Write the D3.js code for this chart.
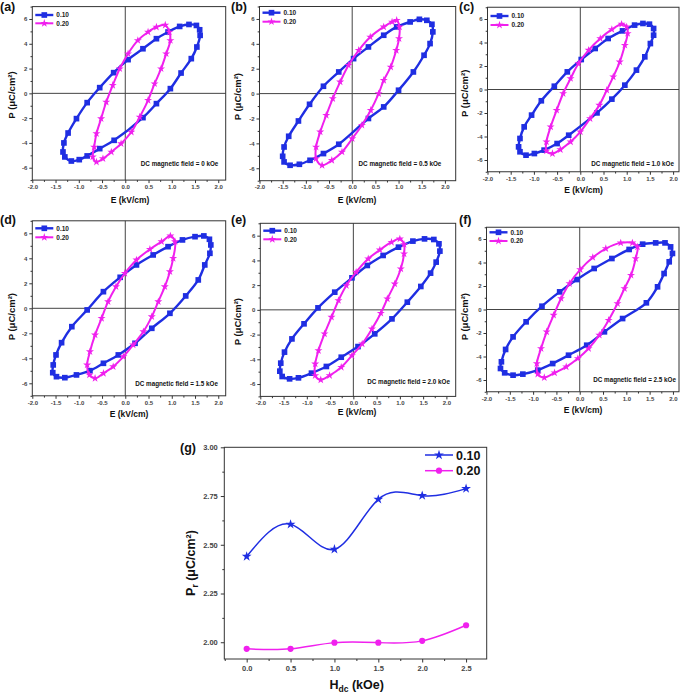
<!DOCTYPE html>
<html><head><meta charset="utf-8">
<script src="https://cdn.jsdelivr.net/npm/d3@7"></script>
<style>body{margin:0;background:#fff} svg{display:block} text{font-family:"Liberation Sans",Arial,sans-serif}</style>
</head><body><svg id="c" width="685" height="695"></svg>
<script>
// ---------------- DATA ----------------
const seriesNames = ["0.10", "0.20"];
const fieldValues = ["0", "0.5", "1.0", "1.5", "2.0", "2.5"];
const panelLetters = ["(a)", "(b)", "(c)", "(d)", "(e)", "(f)"];
const eTicks = [-2, -1.5, -1, -0.5, 0, 0.5, 1, 1.5, 2];
const eTickLabels = ["-2.0", "-1.5", "-1.0", "-0.5", "0.0", "0.5", "1.0", "1.5", "2.0"];
const pTicks = [-6, -4, -2, 0, 2, 4, 6];
const pTickLabels = ["-6", "-4", "-2", "0", "2", "4", "6"];

// P-E loops [E (kV/cm), P (uC/cm2)]
const loopA10 = [[1.37,5.56],[1.53,5.48],[1.60,5.13],[1.61,4.68],[1.54,3.74],[1.42,2.80],[1.20,1.64],[0.97,0.38],[0.67,-0.83],[0.38,-1.96],[-0.24,-3.79],[-0.55,-4.46],[-0.82,-5.05],[-0.99,-5.35],[-1.16,-5.46],[-1.30,-5.13],[-1.34,-4.73],[-1.32,-4.0],[-1.23,-3.2],[-1.05,-2.04],[-0.82,-0.75],[-0.55,0.46],[-0.25,1.67],[0.06,2.72],[0.38,3.6],[0.67,4.41],[0.92,4.95],[1.17,5.40]];
const loopA20 = [[0.86,5.51],[0.95,4.95],[0.97,4.27],[0.88,3.2],[0.77,1.99],[0.63,0.78],[0.49,-0.56],[0.31,-1.91],[0.13,-3.12],[-0.09,-4.06],[-0.30,-4.73],[-0.48,-5.27],[-0.62,-5.54],[-0.70,-5.13],[-0.67,-4.33],[-0.62,-3.25],[-0.52,-2.04],[-0.41,-0.70],[-0.27,0.65],[-0.12,1.99],[0.06,3.2],[0.27,4.27],[0.49,4.95],[0.67,5.35]];
const loopB10 = [[1.25,5.76],[1.45,5.97],[1.61,5.89],[1.72,5.57],[1.74,4.96],[1.68,4.02],[1.55,3.08],[1.32,1.74],[1.0,0.27],[0.68,-1.07],[0.35,-2.0],[-0.29,-4.07],[-0.62,-4.82],[-0.91,-5.36],[-1.14,-5.68],[-1.34,-5.76],[-1.47,-5.49],[-1.50,-5.04],[-1.47,-4.29],[-1.37,-3.43],[-1.16,-2.2],[-0.92,-0.86],[-0.62,0.59],[-0.29,1.74],[0.03,2.81],[0.35,3.75],[0.68,4.69],[0.96,5.36]];
const loopB20 = [[0.96,5.89],[1.02,5.36],[1.01,4.42],[0.95,3.48],[0.83,2.14],[0.68,1.07],[0.57,0.0],[0.40,-1.34],[0.21,-2.54],[0.0,-3.62],[-0.22,-4.69],[-0.44,-5.36],[-0.65,-5.76],[-0.78,-5.22],[-0.78,-4.29],[-0.69,-3.08],[-0.56,-1.74],[-0.42,-0.40],[-0.26,0.94],[-0.08,2.28],[0.14,3.48],[0.39,4.55],[0.68,5.36],[0.86,5.76]];
const loopC10 = [[1.17,5.48],[1.35,5.62],[1.49,5.56],[1.58,5.19],[1.58,4.62],[1.51,3.91],[1.39,2.78],[1.21,1.65],[0.96,0.37],[0.68,-0.82],[0.36,-1.99],[-0.25,-3.89],[-0.5,-4.6],[-0.78,-5.16],[-0.99,-5.45],[-1.17,-5.59],[-1.30,-5.30],[-1.33,-4.88],[-1.30,-4.17],[-1.21,-3.18],[-1.05,-2.18],[-0.84,-0.96],[-0.56,0.28],[-0.28,1.5],[0.02,2.55],[0.32,3.49],[0.60,4.34],[0.91,4.99]];
const loopC20 = [[0.89,5.56],[1.0,5.33],[1.02,4.77],[0.96,3.77],[0.85,2.35],[0.71,1.08],[0.57,-0.06],[0.41,-1.33],[0.21,-2.47],[0.0,-3.6],[-0.21,-4.45],[-0.43,-5.11],[-0.60,-5.45],[-0.73,-5.22],[-0.73,-4.45],[-0.64,-3.18],[-0.51,-1.76],[-0.37,-0.34],[-0.21,0.94],[-0.04,2.21],[0.18,3.35],[0.43,4.34],[0.68,5.11]];
const loopD10 = [[1.23,5.47],[1.50,5.73],[1.69,5.79],[1.81,5.52],[1.84,5.07],[1.82,4.4],[1.71,3.47],[1.57,2.27],[1.30,0.99],[0.96,-0.40],[0.57,-1.60],[0.21,-2.80],[-0.15,-3.73],[-0.47,-4.4],[-0.76,-4.99],[-1.05,-5.33],[-1.30,-5.55],[-1.48,-5.47],[-1.56,-5.15],[-1.55,-4.53],[-1.49,-3.73],[-1.37,-2.75],[-1.15,-1.47],[-0.82,-0.13],[-0.47,1.33],[-0.11,2.48],[0.24,3.47],[0.60,4.27],[0.92,4.93]];
const loopD20 = [[0.97,5.79],[1.07,5.33],[1.03,4.0],[0.96,2.93],[0.85,1.73],[0.71,0.53],[0.57,-0.67],[0.39,-1.87],[0.17,-2.93],[-0.04,-3.87],[-0.26,-4.67],[-0.47,-5.2],[-0.65,-5.6],[-0.77,-5.33],[-0.82,-4.53],[-0.76,-3.47],[-0.65,-2.13],[-0.51,-0.8],[-0.37,0.53],[-0.2,1.73],[-0.01,2.8],[0.24,3.87],[0.53,4.72],[0.78,5.33]];
const loopE10 = [[1.28,5.56],[1.53,5.74],[1.73,5.69],[1.84,5.34],[1.86,4.75],[1.78,3.86],[1.66,2.97],[1.45,1.89],[1.16,0.62],[0.83,-0.73],[0.46,-1.94],[0.10,-2.97],[-0.26,-3.83],[-0.58,-4.58],[-0.90,-5.12],[-1.18,-5.50],[-1.37,-5.58],[-1.53,-5.39],[-1.58,-4.96],[-1.56,-4.31],[-1.48,-3.42],[-1.32,-2.35],[-1.06,-1.13],[-0.76,0.16],[-0.40,1.43],[-0.03,2.59],[0.30,3.59],[0.64,4.40],[0.97,5.07]];
const loopE20 = [[1.0,5.74],[1.09,5.29],[1.09,4.53],[1.02,3.32],[0.89,2.10],[0.73,0.89],[0.59,-0.27],[0.40,-1.54],[0.19,-2.75],[-0.03,-3.69],[-0.26,-4.64],[-0.51,-5.31],[-0.70,-5.66],[-0.82,-5.31],[-0.82,-4.37],[-0.75,-3.29],[-0.62,-1.94],[-0.47,-0.59],[-0.32,0.76],[-0.15,1.97],[0.06,3.05],[0.32,4.13],[0.57,4.85],[0.82,5.47]];
const loopF10 = [[1.35,5.56],[1.63,5.67],[1.83,5.67],[1.95,5.33],[1.99,4.77],[1.92,4.06],[1.81,3.06],[1.67,1.93],[1.43,0.57],[0.92,-0.77],[0.53,-1.90],[0.15,-3.04],[-0.24,-3.89],[-0.58,-4.60],[-0.90,-5.16],[-1.22,-5.50],[-1.43,-5.59],[-1.61,-5.39],[-1.70,-5.02],[-1.68,-4.45],[-1.59,-3.40],[-1.43,-2.33],[-1.15,-1.05],[-0.81,0.28],[-0.43,1.5],[-0.06,2.55],[0.31,3.49],[0.69,4.34],[1.06,5.11]];
const loopF20 = [[1.13,5.67],[1.24,5.33],[1.20,4.34],[1.10,2.92],[0.96,1.79],[0.81,0.51],[0.62,-0.91],[0.42,-2.18],[0.19,-3.32],[-0.04,-4.17],[-0.29,-4.88],[-0.54,-5.39],[-0.76,-5.79],[-0.90,-5.50],[-0.92,-4.60],[-0.83,-3.32],[-0.71,-1.90],[-0.56,-0.48],[-0.40,0.94],[-0.22,2.21],[0.01,3.40],[0.28,4.43],[0.56,5.19],[0.88,5.67]];

// Remanent polarization vs Hdc
const hdc = [0.0, 0.5, 1.0, 1.5, 2.0, 2.5];
const pr10 = [2.44, 2.605, 2.477, 2.733, 2.752, 2.788];
const pr20 = [1.966, 1.966, 1.998, 1.998, 2.007, 2.087];
const hTicks = [0, 0.5, 1.0, 1.5, 2.0, 2.5];
const hTickLabels = ["0.0", "0.5", "1.0", "1.5", "2.0", "2.5"];
const prTicks = [2.00, 2.25, 2.50, 2.75, 3.00];
const prTickLabels = ["2.00", "2.25", "2.50", "2.75", "3.00"];

// ---------------- LAYOUT ----------------
const BLUE = "#1f2ee2", MAG = "#f020ee", AX = "#333";
const loops = [[loopA10, loopA20],[loopB10, loopB20],[loopC10, loopC20],[loopD10, loopD20],[loopE10, loopE20],[loopF10, loopF20]];
const frames = [
  {l:32.3, r:225.7, t:6.6, b:180.1, xmax:2.16, lab:[0,11], eLab:[130,203], pLab:[15,95], leg:[15,23.3], ann:[218.3,166]},
  {l:259.5, r:455.7, t:6.5, b:180.7, xmax:2.233, lab:[231,11], eLab:[357,203], pLab:[241,96.7], leg:[12.7,21.7], ann:[441.3,165.5]},
  {l:487.5, r:679, t:7.25, b:171.75, xmax:2.127, lab:[459,11], eLab:[583.5,193], pLab:[467.5,93.3], leg:[16,25], ann:[674,165.5]},
  {l:32.3, r:225.7, t:220.8, b:395.8, xmax:2.16, lab:[0,224], eLab:[129,417], pLab:[15,316.7], leg:[228.3,237.3], ann:[218,385.5]},
  {l:260.3, r:455.7, t:223.3, b:396.4, xmax:2.2, lab:[231,224], eLab:[357,415], pLab:[241,321.7], leg:[230.7,239.3], ann:[450,384]},
  {l:486.5, r:679, t:227.25, b:391.75, xmax:2.13, lab:[459,224], eLab:[583,413], pLab:[467.5,316.7], leg:[232.3,241], ann:[676,382]}
];

const svg = d3.select("#c");
const sq = d3.symbol().type(d3.symbolSquare).size(32);
const st = d3.symbol().type(d3.symbolStar).size(20);

frames.forEach((f, i) => {
  const g = svg.append("g");
  const x = d3.scaleLinear().domain([-2, f.xmax]).range([f.l, f.r]);
  const y = d3.scaleLinear().domain([-7, 7]).range([f.b, f.t]);
  // zero lines
  g.append("line").attr("x1", x(0)).attr("x2", x(0)).attr("y1", f.t).attr("y2", f.b).attr("stroke", "#444").attr("stroke-width", 1);
  g.append("line").attr("x1", f.l).attr("x2", f.r).attr("y1", y(0)).attr("y2", y(0)).attr("stroke", "#444").attr("stroke-width", 1);
  // axes
  const xa = g.append("g").attr("transform", `translate(0,${f.b})`)
    .call(d3.axisBottom(x).tickValues(eTicks).tickSize(3).tickPadding(1.5).tickFormat((d, k) => eTickLabels[k]));
  const xm = g.append("g").attr("transform", `translate(0,${f.b})`)
    .call(d3.axisBottom(x).tickValues(d3.range(-1.75, 2.1, 0.5)).tickSize(1.8).tickFormat(""));
  const ya = g.append("g").attr("transform", `translate(${f.l},0)`)
    .call(d3.axisLeft(y).tickValues(pTicks).tickSize(3).tickPadding(2).tickFormat((d, k) => pTickLabels[k]));
  const ym = g.append("g").attr("transform", `translate(${f.l},0)`)
    .call(d3.axisLeft(y).tickValues([-7,-5,-3,-1,1,3,5,7]).tickSize(1.8).tickFormat(""));
  [xa, xm, ya, ym].forEach(a => {
    a.select(".domain").remove();
    a.selectAll("line").attr("stroke", AX);
    a.selectAll("text").attr("font-size", 6).attr("font-weight", "bold").attr("fill", "#444");
  });
  g.append("rect").attr("x", f.l).attr("y", f.t).attr("width", f.r - f.l).attr("height", f.b - f.t)
    .attr("fill", "none").attr("stroke", AX).attr("stroke-width", 1);
  // loops
  const line = d3.line().x(d => x(d[0])).y(d => y(d[1])).curve(d3.curveCatmullRomClosed.alpha(0.5));
  const [d10, d20] = loops[i];
  g.append("path").attr("d", line(d10)).attr("fill", "none").attr("stroke", BLUE).attr("stroke-width", 2.4);
  g.selectAll(".m10").data(d10).join("path").attr("d", sq).attr("fill", BLUE)
    .attr("transform", d => `translate(${x(d[0])},${y(d[1])})`);
  g.append("path").attr("d", line(d20)).attr("fill", "none").attr("stroke", MAG).attr("stroke-width", 2);
  g.selectAll(".m20").data(d20).join("path").attr("d", st).attr("fill", MAG)
    .attr("transform", d => `translate(${x(d[0])},${y(d[1])})`);
  // legend
  [[BLUE, sq, f.leg[0], 2.4], [MAG, st, f.leg[1], 2]].forEach((L, k) => {
    g.append("line").attr("x1", f.l + 3).attr("x2", f.l + 21).attr("y1", L[2]).attr("y2", L[2]).attr("stroke", L[0]).attr("stroke-width", L[3]);
    g.append("path").attr("d", L[1]).attr("fill", L[0]).attr("transform", `translate(${f.l + 12},${L[2]})`);
    g.append("text").attr("x", f.l + 24).attr("y", L[2] + 2.3).attr("font-size", 6.5).attr("font-weight", "bold").attr("fill", "#222").text(seriesNames[k]);
  });
  // annotation
  g.append("text").attr("x", f.ann[0]).attr("y", f.ann[1]).attr("text-anchor", "end").attr("font-size", 6.3)
    .attr("font-weight", "bold").attr("fill", "#111").text(`DC magnetic field = ${fieldValues[i]} kOe`);
  // titles
  g.append("text").attr("x", f.eLab[0]).attr("y", f.eLab[1]).attr("text-anchor", "middle").attr("font-size", 8.5)
    .attr("font-weight", "bold").attr("fill", "#111").text("E (kV/cm)");
  g.append("text").attr("transform", `translate(${f.pLab[0]},${f.pLab[1]}) rotate(-90)`).attr("text-anchor", "middle")
    .attr("font-size", 9.5).attr("font-weight", "bold").attr("fill", "#111").text("P (μC/cm²)");
  g.append("text").attr("x", f.lab[0]).attr("y", f.lab[1]).attr("font-size", 12.5).attr("font-weight", "bold").attr("fill", "#111").text(panelLetters[i]);
});

// ---------------- PANEL (g) ----------------
(function () {
  const L = 224.3, R = 486.7, T = 447.3, B = 659;
  const g = svg.append("g");
  const x = d3.scaleLinear().domain([-0.255, 2.735]).range([L, R]);
  const y = d3.scaleLinear().domain([1.914, 3.0]).range([B, T]);
  const xa = g.append("g").attr("transform", `translate(0,${B})`)
    .call(d3.axisBottom(x).tickValues(hTicks).tickSize(3.5).tickPadding(3).tickFormat((d, k) => hTickLabels[k]));
  const xm = g.append("g").attr("transform", `translate(0,${B})`)
    .call(d3.axisBottom(x).tickValues([-0.25, 0.25, 0.75, 1.25, 1.75, 2.25]).tickSize(2).tickFormat(""));
  const ya = g.append("g").attr("transform", `translate(${L},0)`)
    .call(d3.axisLeft(y).tickValues(prTicks).tickSize(3.5).tickPadding(3).tickFormat((d, k) => prTickLabels[k]));
  const ym = g.append("g").attr("transform", `translate(${L},0)`)
    .call(d3.axisLeft(y).tickValues([2.125, 2.375, 2.625, 2.875]).tickSize(2).tickFormat(""));
  [xa, xm, ya, ym].forEach(a => {
    a.select(".domain").remove();
    a.selectAll("line").attr("stroke", AX);
    a.selectAll("text").attr("font-size", 7.5).attr("font-weight", "bold").attr("fill", "#444");
  });
  g.append("rect").attr("x", L).attr("y", T).attr("width", R - L).attr("height", B - T)
    .attr("fill", "none").attr("stroke", AX).attr("stroke-width", 1);
  const line = d3.line().x(d => x(d[0])).y(d => y(d[1])).curve(d3.curveNatural);
  const s10 = hdc.map((h, k) => [h, pr10[k]]);
  const s20 = hdc.map((h, k) => [h, pr20[k]]);
  const star = d3.symbol().type(d3.symbolStar).size(30);
  const circ = d3.symbol().type(d3.symbolCircle).size(30);
  g.append("path").attr("d", line(s10)).attr("fill", "none").attr("stroke", BLUE).attr("stroke-width", 1.5);
  g.selectAll(".p10").data(s10).join("path").attr("d", star).attr("fill", BLUE).attr("transform", d => `translate(${x(d[0])},${y(d[1])})`);
  g.append("path").attr("d", line(s20)).attr("fill", "none").attr("stroke", MAG).attr("stroke-width", 1.5);
  g.selectAll(".p20").data(s20).join("path").attr("d", circ).attr("fill", MAG).attr("transform", d => `translate(${x(d[0])},${y(d[1])})`);
  // legend
  [[BLUE, star, 455], [MAG, circ, 470.7]].forEach((Lg, k) => {
    g.append("line").attr("x1", 425).attr("x2", 453).attr("y1", Lg[2]).attr("y2", Lg[2]).attr("stroke", Lg[0]).attr("stroke-width", 1.5);
    g.append("path").attr("d", Lg[1]).attr("fill", Lg[0]).attr("transform", `translate(439,${Lg[2]})`);
    g.append("text").attr("x", 456).attr("y", Lg[2] + 4.5).attr("font-size", 12.5).attr("font-weight", "bold").attr("fill", "#111").text(seriesNames[k]);
  });
  g.append("text").attr("x", 180).attr("y", 452).attr("font-size", 12.5).attr("font-weight", "bold").attr("fill", "#111").text("(g)");
  const xt = g.append("text").attr("x", 356.7).attr("y", 689).attr("text-anchor", "middle").attr("font-size", 12.5).attr("font-weight", "bold").attr("fill", "#111");
  xt.append("tspan").text("H");
  xt.append("tspan").attr("font-size", 8.5).attr("dy", 3).text("dc");
  xt.append("tspan").attr("dy", -3).text(" (kOe)");
  const yt = g.append("text").attr("transform", "translate(195,563) rotate(-90)").attr("text-anchor", "middle").attr("font-size", 12.5).attr("font-weight", "bold").attr("fill", "#111");
  yt.append("tspan").text("P");
  yt.append("tspan").attr("font-size", 8.5).attr("dy", 3).text("r");
  yt.append("tspan").attr("dy", -3).text(" (μC/cm²)");
})();
</script></body></html>
